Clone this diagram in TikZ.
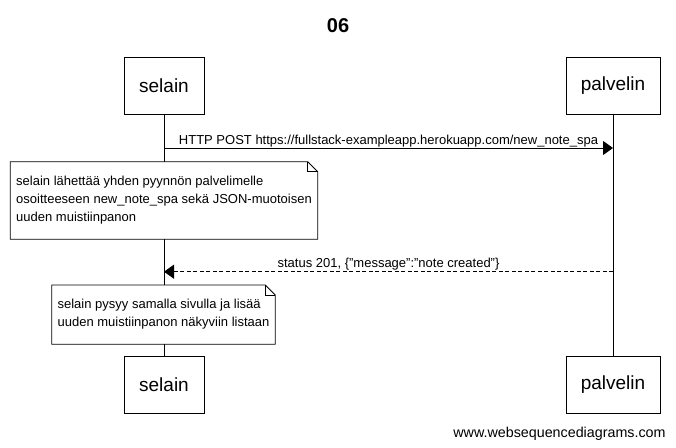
\documentclass[tikz,border=0pt]{standalone}
\usepackage{fontspec}
\setmainfont{Liberation Sans}
\usetikzlibrary{arrows.meta,calc}
\begin{document}
\begin{tikzpicture}[x=1pt,y=-1pt,line width=0.8pt,
  actor/.style={draw,minimum height=57pt,inner sep=0pt,font=\fontsize{19}{22}\selectfont},
  msg/.style={font=\fontsize{13}{15}\selectfont,inner sep=0pt,anchor=base},
  notebox/.style={fill=white,align=left,inner xsep=5.5pt,inner ysep=0pt,font=\fontsize{13}{18}\selectfont},
  tip/.style={-{Triangle[length=10pt,width=14pt]}}]
\useasboundingbox (0,0) rectangle (676,447);
\node[font=\bfseries\fontsize{20}{24}\selectfont] (title) at (338,26) {06};
\node[actor,minimum width=80pt] (s1) at (164,85.5) {selain};
\node[actor,minimum width=94pt] (p1) at (613,85.5) {palvelin};
\node[actor,minimum width=80pt] (s2) at (164,384.5) {selain};
\node[actor,minimum width=94pt] (p2) at (613,384.5) {palvelin};
\draw (s1.south) -- (s2.north);
\draw (p1.south) -- (p2.north);
% message 1
\coordinate (a1s) at (164,148);
\coordinate (a1e) at (613,148);
\draw[tip] (a1s) -- (a1e);
\node[msg] (m1) at ($(a1s)!0.5!(a1e)+(0pt,4pt)$) {HTTP POST https://fullstack-exampleapp.herokuapp.com/new\_note\_spa};
% note 1
\node[notebox,minimum width=306.7pt,minimum height=76.6pt] (n1) at (164,200.5) {selain lähettää yhden pyynnön palvelimelle\\osoitteeseen new\_note\_spa sekä JSON-muotoisen\\uuden muistiinpanon};
\draw (n1.north west) -- ($(n1.north east)+(-10pt,0pt)$) -- ($(n1.north east)+(0pt,-10pt)$) -- (n1.south east) -- (n1.south west) -- cycle;
\draw ($(n1.north east)+(-10pt,0pt)$) |- ($(n1.north east)+(0pt,-10pt)$);
% message 2
\coordinate (a2s) at (613,271.7);
\coordinate (a2e) at (164,271.7);
\draw[tip,dash pattern=on 4pt off 2.5pt] (a2s) -- (a2e);
\node[msg] (m2) at ($(a2s)!0.5!(a2e)+(0pt,4pt)$) {status 201, \{"message":"note created"\}};
% note 2
\node[notebox,minimum width=222pt,minimum height=58.3pt] (n2) at (163.5,314.6) {selain pysyy samalla sivulla ja lisää\\uuden muistiinpanon näkyviin listaan};
\draw (n2.north west) -- ($(n2.north east)+(-10pt,0pt)$) -- ($(n2.north east)+(0pt,-10pt)$) -- (n2.south east) -- (n2.south west) -- cycle;
\draw ($(n2.north east)+(-10pt,0pt)$) |- ($(n2.north east)+(0pt,-10pt)$);
\node[font=\fontsize{14.3}{16}\selectfont,anchor=base east,inner sep=0pt] (foot) at (666,437) {www.websequencediagrams.com};
\end{tikzpicture}
\end{document}
